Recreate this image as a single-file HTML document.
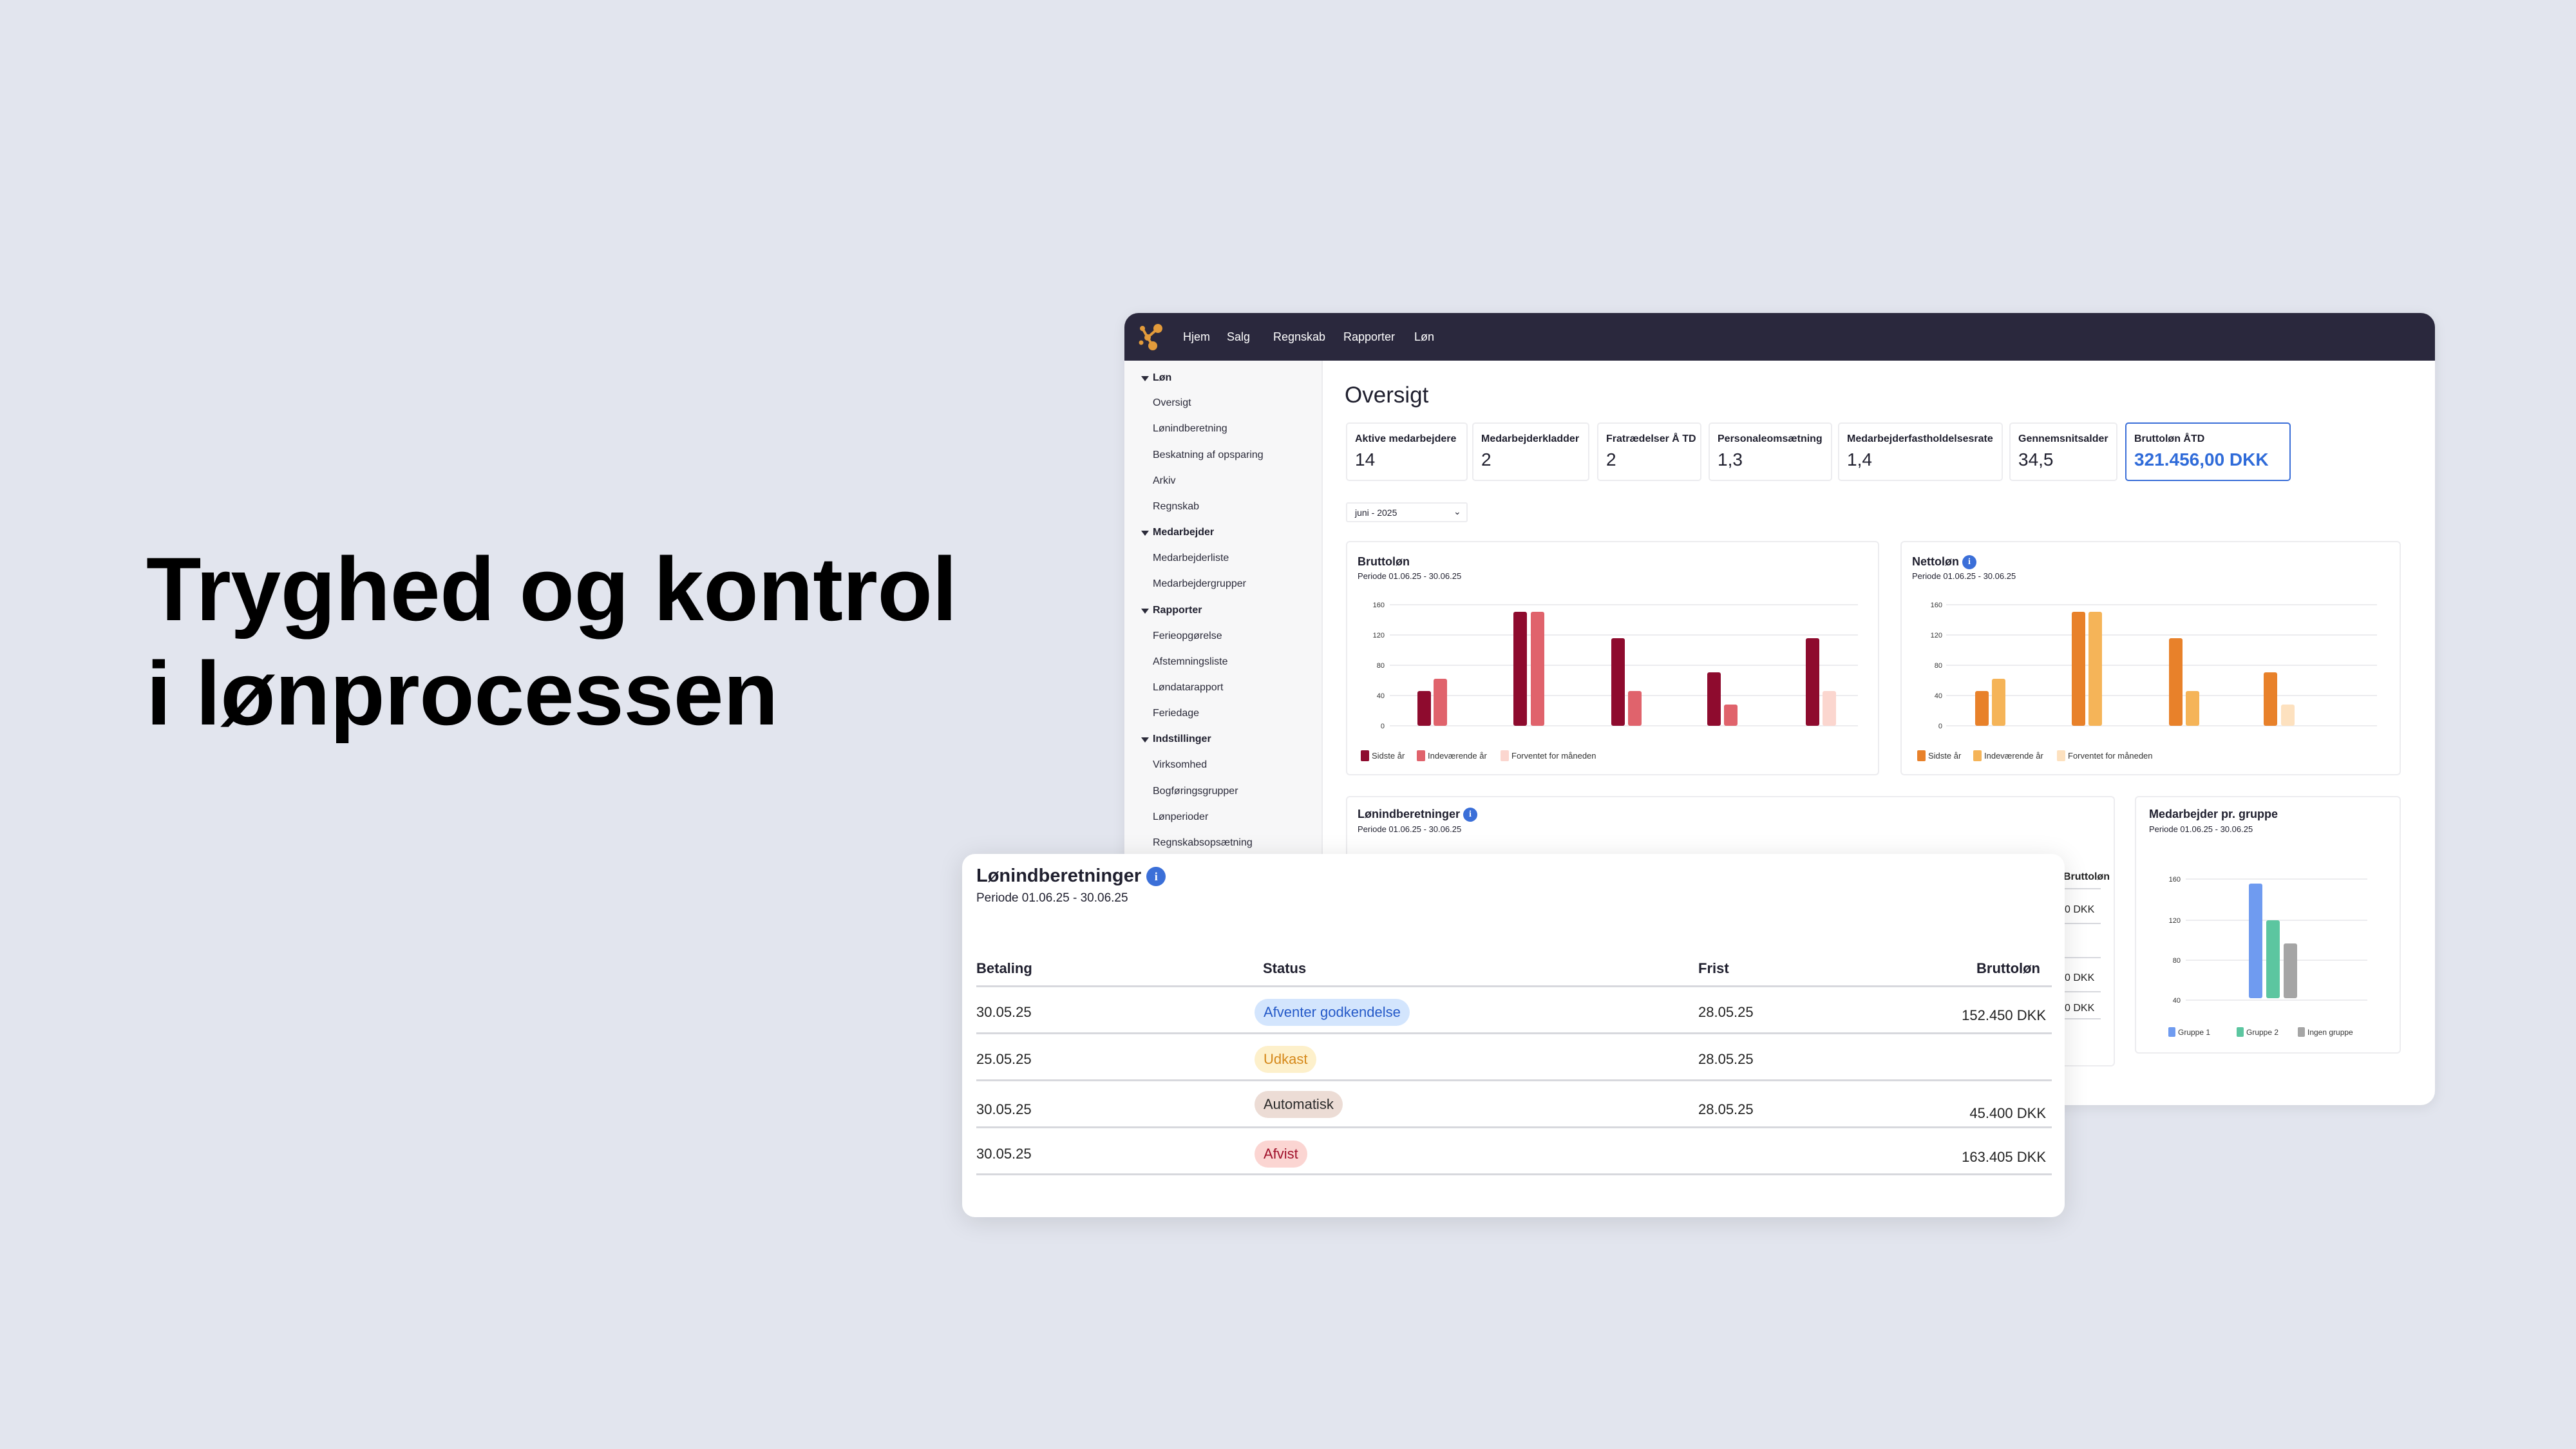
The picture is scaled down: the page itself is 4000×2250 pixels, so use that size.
<!DOCTYPE html>
<html><head><meta charset="utf-8"><style>
*{margin:0;padding:0;box-sizing:border-box}
body{width:4000px;height:2250px;background:#e2e5ee;position:relative;overflow:hidden;font-family:"Liberation Sans Narrow","Liberation Sans",sans-serif;color:#1f1f2e}
.a{position:absolute;white-space:nowrap}
.h{font-family:"Liberation Sans",sans-serif;font-weight:bold;font-size:140px;color:#000;left:227px;letter-spacing:-0.5px}
.win{position:absolute;left:1746px;top:486px;width:2035px;height:1230px;background:#fff;border-radius:22px;overflow:hidden;box-shadow:0 4px 20px rgba(0,0,0,.08)}
.top{position:absolute;left:0;top:0;width:100%;height:74px;background:#2a283d}
.nav{color:#fff;font-size:18px;top:27px}
.side{position:absolute;left:0;top:74px;width:308px;height:1160px;background:#f7f7f8;border-right:2px solid #ebebee}
.si{font-size:16px;color:#2b2b3a;left:44px}
.sh{font-size:16px;font-weight:bold;left:44px}
.tri{left:26px;width:0;height:0;border-left:6px solid transparent;border-right:6px solid transparent;border-top:8px solid #2b2b3a}
.kpi{position:absolute;top:170px;height:91px;border:2px solid #ececef;border-radius:5px;background:#fff}
.kl{position:absolute;left:12px;top:15px;font-size:16px;font-weight:bold}
.kv{position:absolute;left:12px;top:40px;font-size:28px}
.card{position:absolute;border:2px solid #ececef;border-radius:6px;background:#fff}
.ct{font-size:18px;font-weight:bold}
.cp{font-size:13px}
.front{position:absolute;left:1494px;top:1326px;width:1712px;height:564px;background:#fff;border-radius:20px;box-shadow:0 6px 40px rgba(0,0,0,.12)}
.fc{font-size:22px;color:#222}
.th{font-size:22px;font-weight:bold}
.ln{position:absolute;left:22px;width:1670px;height:3px;background:#d7d8dd}
.badge{position:absolute;left:454px;height:42px;border-radius:21px;font-size:22px;line-height:42px;padding:0 14px}
.info{display:inline-block;width:30px;height:30px;border-radius:50%;background:#3b6fd8;color:#fff;font-size:18px;text-align:center;line-height:30px;font-family:"Liberation Serif",serif;vertical-align:middle}
</style></head><body>
<div class="a h" style="top:834px">Tryghed og kontrol</div>
<div class="a h" style="top:996px">i lønprocessen</div>

<div class="win">
 <div class="top"></div>
 <svg class="a" style="left:22px;top:16px" width="40" height="44"><circle cx="6" cy="8" r="4" fill="#e39b3b"/><circle cx="30" cy="8" r="7" fill="#e39b3b"/><circle cx="14" cy="22" r="5" fill="#e39b3b"/><circle cx="22" cy="35" r="7" fill="#e39b3b"/><circle cx="4" cy="30" r="3.5" fill="#e39b3b"/><path d="M6 8 L14 22 L30 8 M14 22 L22 35" stroke="#e39b3b" stroke-width="4" fill="none"/></svg>
 <div class="a nav" style="left:91px">Hjem</div>
 <div class="a nav" style="left:159px">Salg</div>
 <div class="a nav" style="left:231px">Regnskab</div>
 <div class="a nav" style="left:340px">Rapporter</div>
 <div class="a nav" style="left:450px">Løn</div>
 <div class="side">
  <div class="a tri" style="top:24px"></div><div class="a sh" style="top:18px">Løn</div>
  <div class="a si" style="top:57px">Oversigt</div>
  <div class="a si" style="top:97px">Lønindberetning</div>
  <div class="a si" style="top:138px">Beskatning af opsparing</div>
  <div class="a si" style="top:178px">Arkiv</div>
  <div class="a si" style="top:218px">Regnskab</div>
  <div class="a tri" style="top:264px"></div><div class="a sh" style="top:258px">Medarbejder</div>
  <div class="a si" style="top:298px">Medarbejderliste</div>
  <div class="a si" style="top:338px">Medarbejdergrupper</div>
  <div class="a tri" style="top:385px"></div><div class="a sh" style="top:379px">Rapporter</div>
  <div class="a si" style="top:419px">Ferieopgørelse</div>
  <div class="a si" style="top:459px">Afstemningsliste</div>
  <div class="a si" style="top:499px">Løndatarapport</div>
  <div class="a si" style="top:539px">Feriedage</div>
  <div class="a tri" style="top:585px"></div><div class="a sh" style="top:579px">Indstillinger</div>
  <div class="a si" style="top:619px">Virksomhed</div>
  <div class="a si" style="top:660px">Bogføringsgrupper</div>
  <div class="a si" style="top:700px">Lønperioder</div>
  <div class="a si" style="top:740px">Regnskabsopsætning</div>
 </div>
 <div class="a" style="left:342px;top:108px;font-size:35px">Oversigt</div>
 <div class="kpi" style="left:344px;width:189px"><div class="kl">Aktive medarbejdere</div><div class="kv">14</div></div>
 <div class="kpi" style="left:540px;width:182px"><div class="kl">Medarbejderkladder</div><div class="kv">2</div></div>
 <div class="kpi" style="left:734px;width:162px"><div class="kl">Fratrædelser Å TD</div><div class="kv">2</div></div>
 <div class="kpi" style="left:907px;width:192px"><div class="kl">Personaleomsætning</div><div class="kv">1,3</div></div>
 <div class="kpi" style="left:1108px;width:256px"><div class="kl">Medarbejderfastholdelsesrate</div><div class="kv">1,4</div></div>
 <div class="kpi" style="left:1374px;width:168px"><div class="kl">Gennemsnitsalder</div><div class="kv">34,5</div></div>
 <div class="kpi" style="left:1554px;width:257px;border-color:#3b6fd8"><div class="kl">Bruttoløn ÅTD</div><div class="kv" style="color:#2f6bd9;font-weight:bold">321.456,00 DKK</div></div>
 <div class="card" style="left:344px;top:294px;width:189px;height:31px;border-radius:3px"><div class="a" style="left:12px;top:6px;font-size:14px">juni - 2025</div><div class="a" style="left:165px;top:4px;font-size:14px">⌄</div></div>

 <div class="card" style="left:344px;top:354px;width:828px;height:364px"><div class="a ct" style="left:16px;top:20px">Bruttoløn</div><div class="a cp" style="left:16px;top:45px">Periode 01.06.25 - 30.06.25</div></div>
 <div class="card" style="left:1205px;top:354px;width:777px;height:364px"><div class="a ct" style="left:16px;top:20px">Nettoløn <span class="info" style="width:22px;height:22px;line-height:22px;font-size:14px">i</span></div><div class="a cp" style="left:16px;top:45px">Periode 01.06.25 - 30.06.25</div></div>
 <div class="card" style="left:344px;top:750px;width:1194px;height:420px"><div class="a ct" style="left:16px;top:16px">Lønindberetninger <span class="info" style="width:22px;height:22px;line-height:22px;font-size:14px">i</span></div><div class="a cp" style="left:16px;top:42px">Periode 01.06.25 - 30.06.25</div></div>
 <div class="card" style="left:1569px;top:750px;width:413px;height:400px"><div class="a ct" style="left:20px;top:16px">Medarbejder pr. gruppe</div><div class="a cp" style="left:20px;top:42px">Periode 01.06.25 - 30.06.25</div></div>
</div>

<svg class="a" style="left:0;top:0" width="4000" height="2250" font-family="Liberation Sans Narrow, Liberation Sans, sans-serif">
 <g stroke="#ececef" stroke-width="2">
  <line x1="2158" x2="2885" y1="939" y2="939"/><line x1="2158" x2="2885" y1="986" y2="986"/><line x1="2158" x2="2885" y1="1033" y2="1033"/><line x1="2158" x2="2885" y1="1080" y2="1080"/><line x1="2158" x2="2885" y1="1127" y2="1127"/>
  <line x1="3022" x2="3691" y1="939" y2="939"/><line x1="3022" x2="3691" y1="986" y2="986"/><line x1="3022" x2="3691" y1="1033" y2="1033"/><line x1="3022" x2="3691" y1="1080" y2="1080"/><line x1="3022" x2="3691" y1="1127" y2="1127"/>
  <line x1="3394" x2="3676" y1="1365" y2="1365"/><line x1="3394" x2="3676" y1="1429" y2="1429"/><line x1="3394" x2="3676" y1="1491" y2="1491"/><line x1="3394" x2="3676" y1="1553" y2="1553"/>
 </g>
 <g font-size="11" fill="#333" text-anchor="end">
  <text x="2150" y="943">160</text><text x="2150" y="990">120</text><text x="2150" y="1037">80</text><text x="2150" y="1084">40</text><text x="2150" y="1131">0</text>
  <text x="3016" y="943">160</text><text x="3016" y="990">120</text><text x="3016" y="1037">80</text><text x="3016" y="1084">40</text><text x="3016" y="1131">0</text>
  <text x="3386" y="1369">160</text><text x="3386" y="1433">120</text><text x="3386" y="1495">80</text><text x="3386" y="1557">40</text>
 </g>
 <g>
  <rect x="2201" y="1073" width="21" height="54" rx="3" fill="#8e0b2e"/><rect x="2226" y="1054" width="21" height="73" rx="3" fill="#e0636c"/>
  <rect x="2350" y="950" width="21" height="177" rx="3" fill="#8e0b2e"/><rect x="2377" y="950" width="21" height="177" rx="3" fill="#e0636c"/>
  <rect x="2502" y="991" width="21" height="136" rx="3" fill="#8e0b2e"/><rect x="2528" y="1073" width="21" height="54" rx="3" fill="#e0636c"/>
  <rect x="2651" y="1044" width="21" height="83" rx="3" fill="#8e0b2e"/><rect x="2677" y="1094" width="21" height="33" rx="3" fill="#e0636c"/>
  <rect x="2804" y="991" width="21" height="136" rx="3" fill="#8e0b2e"/><rect x="2830" y="1073" width="21" height="54" rx="3" fill="#fbd6cf"/>
  <rect x="3067" y="1073" width="21" height="54" rx="3" fill="#e8812a"/><rect x="3093" y="1054" width="21" height="73" rx="3" fill="#f5b458"/>
  <rect x="3217" y="950" width="21" height="177" rx="3" fill="#e8812a"/><rect x="3243" y="950" width="21" height="177" rx="3" fill="#f5b458"/>
  <rect x="3368" y="991" width="21" height="136" rx="3" fill="#e8812a"/><rect x="3394" y="1073" width="21" height="54" rx="3" fill="#f5b458"/>
  <rect x="3515" y="1044" width="21" height="83" rx="3" fill="#e8812a"/><rect x="3542" y="1094" width="21" height="33" rx="3" fill="#fde1bf"/>
  <rect x="3492" y="1372" width="21" height="178" rx="3" fill="#6f9bf0"/><rect x="3519" y="1429" width="21" height="121" rx="3" fill="#5cc6a0"/><rect x="3546" y="1465" width="21" height="85" rx="3" fill="#a5a5a5"/>
 </g>
 <g font-size="13" fill="#333">
  <rect x="2113" y="1165" width="13" height="17" rx="2" fill="#8e0b2e"/><text x="2130" y="1178">Sidste år</text>
  <rect x="2200" y="1165" width="13" height="17" rx="2" fill="#e0636c"/><text x="2217" y="1178">Indeværende år</text>
  <rect x="2330" y="1165" width="13" height="17" rx="2" fill="#fbd6cf"/><text x="2347" y="1178">Forventet for måneden</text>
  <rect x="2977" y="1165" width="13" height="17" rx="2" fill="#e8812a"/><text x="2994" y="1178">Sidste år</text>
  <rect x="3064" y="1165" width="13" height="17" rx="2" fill="#f5b458"/><text x="3081" y="1178">Indeværende år</text>
  <rect x="3194" y="1165" width="13" height="17" rx="2" fill="#fde1bf"/><text x="3211" y="1178">Forventet for måneden</text>
  <rect x="3367" y="1595" width="11" height="15" rx="2" fill="#6f9bf0"/><text x="3382" y="1607" font-size="12">Gruppe 1</text>
  <rect x="3473" y="1595" width="11" height="15" rx="2" fill="#5cc6a0"/><text x="3488" y="1607" font-size="12">Gruppe 2</text>
  <rect x="3568" y="1595" width="11" height="15" rx="2" fill="#a5a5a5"/><text x="3583" y="1607" font-size="12">Ingen gruppe</text>
 </g>
 <g font-size="16" fill="#222">
  <text x="3204" y="1366" font-weight="bold">Bruttoløn</text>
  <line x1="3200" x2="3262" y1="1380" y2="1380" stroke="#d7d8dd" stroke-width="2"/>
  <text x="3206" y="1417">0 DKK</text>
  <line x1="3200" x2="3262" y1="1434" y2="1434" stroke="#d7d8dd" stroke-width="2"/>
  <line x1="3200" x2="3262" y1="1487" y2="1487" stroke="#d7d8dd" stroke-width="2"/>
  <text x="3206" y="1523">0 DKK</text>
  <line x1="3200" x2="3262" y1="1540" y2="1540" stroke="#d7d8dd" stroke-width="2"/>
  <text x="3206" y="1570">0 DKK</text>
  <line x1="3200" x2="3262" y1="1582" y2="1582" stroke="#d7d8dd" stroke-width="2"/>
 </g>
</svg>

<div class="front">
 <div class="a" style="left:22px;top:18px;font-size:29px;font-weight:bold">Lønindberetninger <span class="info">i</span></div>
 <div class="a" style="left:22px;top:58px;font-size:19px">Periode 01.06.25 - 30.06.25</div>
 <div class="a th" style="left:22px;top:165px">Betaling</div>
 <div class="a th" style="left:467px;top:165px">Status</div>
 <div class="a th" style="left:1143px;top:165px">Frist</div>
 <div class="a th" style="right:38px;top:165px">Bruttoløn</div>
 <div class="ln" style="top:204px"></div>
 <div class="a fc" style="left:22px;top:233px">30.05.25</div>
 <div class="badge" style="top:225px;background:#d3e5fd;color:#2459c8">Afventer godkendelse</div>
 <div class="a fc" style="left:1143px;top:233px">28.05.25</div>
 <div class="a fc" style="right:29px;top:238px">152.450 DKK</div>
 <div class="ln" style="top:277px"></div>
 <div class="a fc" style="left:22px;top:306px">25.05.25</div>
 <div class="badge" style="top:298px;background:#fdf0cb;color:#d5881a">Udkast</div>
 <div class="a fc" style="left:1143px;top:306px">28.05.25</div>
 <div class="ln" style="top:350px"></div>
 <div class="a fc" style="left:22px;top:384px">30.05.25</div>
 <div class="badge" style="top:368px;background:#ecdcd5;color:#2a2a2a">Automatisk</div>
 <div class="a fc" style="left:1143px;top:384px">28.05.25</div>
 <div class="a fc" style="right:29px;top:390px">45.400 DKK</div>
 <div class="ln" style="top:423px"></div>
 <div class="a fc" style="left:22px;top:453px">30.05.25</div>
 <div class="badge" style="top:445px;background:#fbd5d2;color:#a0102a">Afvist</div>
 <div class="a fc" style="right:29px;top:458px">163.405 DKK</div>
 <div class="ln" style="top:496px"></div>
</div>
</body></html>
